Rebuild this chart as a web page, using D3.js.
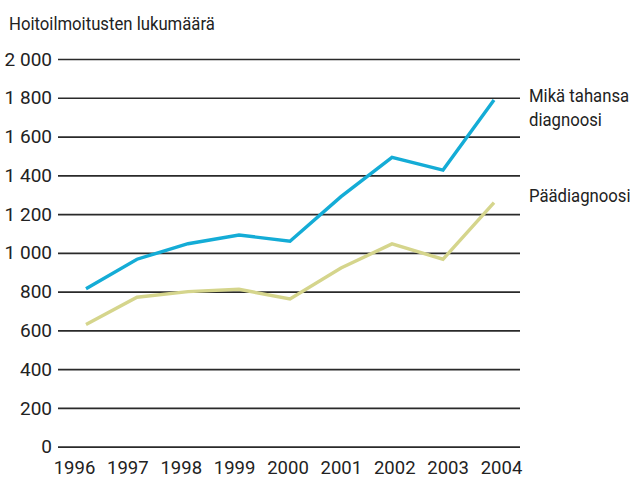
<!DOCTYPE html>
<html>
<head>
<meta charset="utf-8">
<script src="https://cdn.jsdelivr.net/npm/d3@7"></script>
<style>
  html, body { margin: 0; padding: 0; background: #fff; }
  svg text { font-family: Roboto, "Noto Sans", sans-serif; fill: #222; }
</style>
</head>
<body>
<svg id="chart" width="630" height="480"></svg>
<script>
const years = [1996, 1997, 1998, 1999, 2000, 2001, 2002, 2003, 2004];
const anyDiagnosis = [815, 967, 1047, 1092, 1060, 1290, 1493, 1427, 1789];
const mainDiagnosis = [630, 771, 800, 812, 762, 922, 1046, 967, 1259];
const yTicks = [0, 200, 400, 600, 800, 1000, 1200, 1400, 1600, 1800, 2000];
const seriesNames = [["Mikä tahansa", "diagnoosi"], ["Päädiagnoosi"]];
const seriesColors = ["#14acd6", "#d5d58c"];
const yTitle = "Hoitoilmoitusten lukumäärä";

const svg = d3.select("#chart");
const y = d3.scaleLinear().domain([0, 2000]).range([446.7, 59]);
const x = d3.scalePoint().domain(years).range([86, 494]);
const xLab = d3.scalePoint().domain(years).range([74, 501]);
const fmt = v => d3.format(",")(v).replace(",", " ");

// gridlines + y labels
const yAxis = d3.axisLeft(y).tickValues(yTicks).tickSize(-462).tickFormat(fmt).tickPadding(6);
const gy = svg.append("g").attr("transform", "translate(58,0)").call(yAxis);
gy.select(".domain").remove();
gy.selectAll(".tick line").attr("stroke", "#2a2a2a").attr("stroke-width", 1.7);
gy.selectAll(".tick text").attr("font-size", 19).attr("fill", "#222")
  .style("font-family", "Roboto, sans-serif");

// x labels
const xAxis = d3.axisBottom(xLab).tickSize(0).tickPadding(0).tickFormat(d3.format("d"));
const gx = svg.append("g").attr("transform", "translate(0,461)").call(xAxis);
gx.select(".domain").remove();
gx.selectAll(".tick text").attr("font-size", 18.5).attr("fill", "#222")
  .style("font-family", "Roboto, sans-serif");

// title (condensed look)
svg.append("text").attr("transform", "translate(9,30) scale(0.88,1)")
  .attr("font-size", 19).text(yTitle);

// lines
const line = d3.line().x((d, i) => x(years[i])).y(d => y(d));
[anyDiagnosis, mainDiagnosis].forEach((s, k) => {
  svg.append("path").datum(s).attr("d", line).attr("fill", "none")
    .attr("stroke", seriesColors[k]).attr("stroke-width", 3.4)
    .attr("stroke-linejoin", "miter");
});

// series labels
const labelY = [[102, 126], [202]];
seriesNames.forEach((lines, k) => {
  lines.forEach((t, j) => {
    svg.append("text").attr("transform", `translate(529,${labelY[k][j]}) scale(0.88,1)`)
      .attr("font-size", 19).text(t);
  });
});
</script>
</body>
</html>
